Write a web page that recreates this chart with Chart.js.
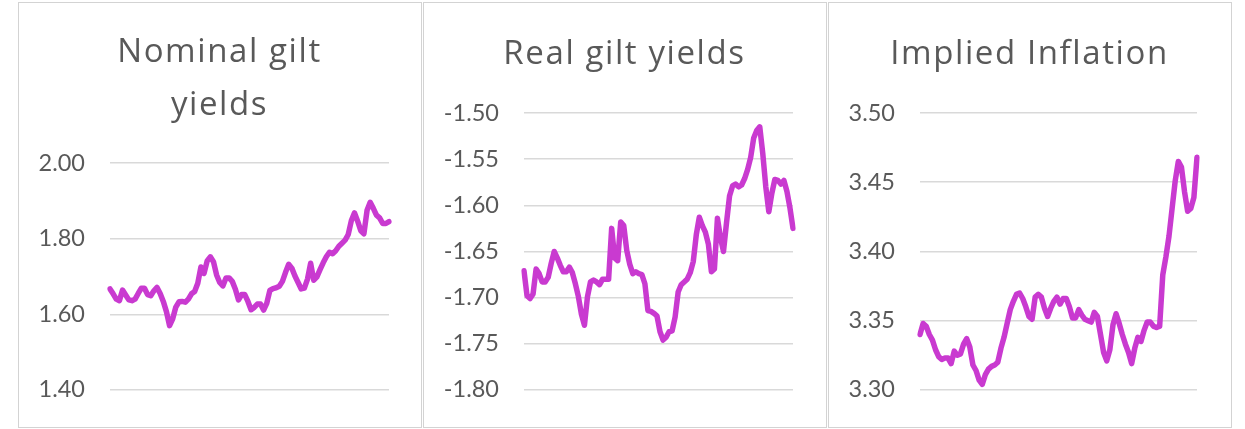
<!DOCTYPE html>
<html><head><meta charset="utf-8">
<script src="https://cdn.jsdelivr.net/npm/chart.js@4.4.0/dist/chart.umd.min.js"></script>
<style>
html,body{margin:0;padding:0;background:#fff;width:1245px;height:429px;overflow:hidden;}
.box{position:absolute;top:0;height:429px;width:403px;}
.frame{position:absolute;box-sizing:border-box;border:1px solid #d3d3d3;pointer-events:none;top:2px;height:426px;width:404px;}
</style></head><body>
<div class="box" style="left:18px"><canvas id="c1"></canvas></div>
<div class="box" style="left:423px"><canvas id="c2"></canvas></div>
<div class="box" style="left:828px"><canvas id="c3"></canvas></div>
<div class="frame" style="left:18px"></div>
<div class="frame" style="left:423px"></div>
<div class="frame" style="left:828px"></div>
<script>
const nominalYields = [
  1.667, 1.654, 1.640, 1.636, 1.664, 1.651, 1.638, 1.636, 1.640, 1.655,
  1.669, 1.669, 1.652, 1.649, 1.662, 1.671, 1.655, 1.634, 1.607, 1.570,
  1.588, 1.619, 1.633, 1.634, 1.632, 1.640, 1.654, 1.660, 1.682, 1.725,
  1.708, 1.741, 1.752, 1.739, 1.704, 1.684, 1.675, 1.696, 1.696, 1.687,
  1.666, 1.638, 1.652, 1.652, 1.634, 1.612, 1.618, 1.627, 1.627, 1.611,
  1.629, 1.663, 1.668, 1.670, 1.674, 1.687, 1.711, 1.732, 1.722, 1.701,
  1.684, 1.667, 1.669, 1.693, 1.735, 1.690, 1.699, 1.718, 1.736, 1.752,
  1.764, 1.760, 1.768, 1.780, 1.788, 1.796, 1.811, 1.848, 1.868, 1.846,
  1.821, 1.813, 1.875, 1.896, 1.880, 1.862, 1.855, 1.840, 1.840, 1.845
];
const realYields = [
  -1.671, -1.698, -1.701, -1.696, -1.669, -1.674, -1.683, -1.683, -1.678, -1.663,
  -1.650, -1.657, -1.665, -1.672, -1.672, -1.667, -1.673, -1.685, -1.699, -1.718,
  -1.730, -1.699, -1.683, -1.681, -1.683, -1.686, -1.680, -1.680, -1.680, -1.625,
  -1.657, -1.660, -1.618, -1.622, -1.649, -1.664, -1.674, -1.672, -1.674, -1.675,
  -1.685, -1.714, -1.715, -1.717, -1.720, -1.737, -1.746, -1.743, -1.737, -1.736,
  -1.721, -1.694, -1.686, -1.683, -1.680, -1.673, -1.661, -1.632, -1.613, -1.622,
  -1.629, -1.642, -1.672, -1.669, -1.614, -1.635, -1.650, -1.619, -1.590, -1.579,
  -1.577, -1.580, -1.578, -1.571, -1.561, -1.548, -1.527, -1.519, -1.515, -1.544,
  -1.580, -1.607, -1.587, -1.572, -1.573, -1.577, -1.573, -1.585, -1.603, -1.625
];
const impliedInflation = [
  3.340, 3.348, 3.346, 3.340, 3.336, 3.329, 3.324, 3.322, 3.323, 3.323,
  3.319, 3.328, 3.325, 3.326, 3.333, 3.337, 3.331, 3.318, 3.314, 3.307,
  3.304, 3.311, 3.315, 3.317, 3.318, 3.320, 3.330, 3.338, 3.348, 3.358,
  3.364, 3.369, 3.370, 3.366, 3.360, 3.353, 3.351, 3.367, 3.369, 3.367,
  3.359, 3.353, 3.359, 3.364, 3.367, 3.362, 3.366, 3.366, 3.360, 3.352,
  3.352, 3.358, 3.354, 3.351, 3.350, 3.349, 3.356, 3.353, 3.340, 3.327,
  3.321, 3.329, 3.347, 3.355, 3.348, 3.340, 3.333, 3.327, 3.319, 3.330,
  3.338, 3.335, 3.343, 3.349, 3.349, 3.346, 3.345, 3.346, 3.383, 3.396,
  3.411, 3.431, 3.451, 3.465, 3.461, 3.443, 3.429, 3.431, 3.439, 3.468
];
const nominalTicks = [1.40, 1.60, 1.80, 2.00];
const realTicks = [-1.80, -1.75, -1.70, -1.65, -1.60, -1.55, -1.50];
const inflationTicks = [3.30, 3.35, 3.40, 3.45, 3.50];
const days = nominalYields.map((_, i) => String(i + 1));

const TEXT = '#595959';
const LINE = '#C93AD0';

const titleSpacing = {
  id: 'titleSpacing',
  beforeDraw(chart) { chart.ctx.letterSpacing = '1.6px'; },
  beforeDatasetsDraw(chart) { chart.ctx.letterSpacing = '0px'; }
};

function makeChart(id, title, values, ticks, axisWidth, rightGap, titlePad, lineH) {
  return new Chart(document.getElementById(id), {
    type: 'line',
    data: {
      labels: days.slice(0, values.length),
      datasets: [{
        data: values,
        yAxisID: 'y',
        borderColor: LINE,
        borderWidth: 5.5,
        pointRadius: 0,
        tension: 0,
        borderJoinStyle: 'round',
        borderCapStyle: 'round',
        fill: false
      }]
    },
    options: {
      responsive: true,
      maintainAspectRatio: false,
      animation: false,
      layout: { padding: { left: 0, right: 0, top: 0, bottom: 34 } },
      plugins: {
        legend: { display: false },
        tooltip: { enabled: false },
        title: {
          display: true,
          text: title,
          color: TEXT,
          font: { family: 'Open Sans', size: 33, weight: 'normal', lineHeight: lineH },
          padding: titlePad
        }
      },
      scales: {
        x: { type: 'category', display: false, offset: false },
        y: {
          position: 'left',
          min: ticks[0],
          max: ticks[ticks.length - 1],
          afterBuildTicks: s => { s.ticks = ticks.map(v => ({ value: v })); },
          afterFit: s => { s.width = axisWidth; },
          border: { display: false },
          grid: { color: '#d9d9d9', lineWidth: 1.5, drawTicks: false },
          ticks: {
            z: 1,
            padding: 25,
            color: TEXT,
            font: { family: 'Lato', size: 23.5 },
            callback: v => Number(v).toFixed(2)
          }
        },
        gap: {
          type: 'linear',
          position: 'right',
          display: true,
          afterFit: s => { s.width = rightGap; },
          border: { display: false },
          grid: { display: false, drawTicks: false },
          ticks: { display: false }
        }
      }
    },
    plugins: [titleSpacing]
  });
}

makeChart('c1', ['Nominal gilt', 'yields'], nominalYields, nominalTicks, 92, 32, { top: 26, bottom: 31 }, 53 / 33);
makeChart('c2', 'Real gilt yields', realYields, realTicks, 101, 33, { top: 28, bottom: 32.5 }, 52.5 / 33);
makeChart('c3', 'Implied Inflation', impliedInflation, inflationTicks, 92, 34, { top: 28, bottom: 32.5 }, 52.5 / 33);
</script>
</body></html>
